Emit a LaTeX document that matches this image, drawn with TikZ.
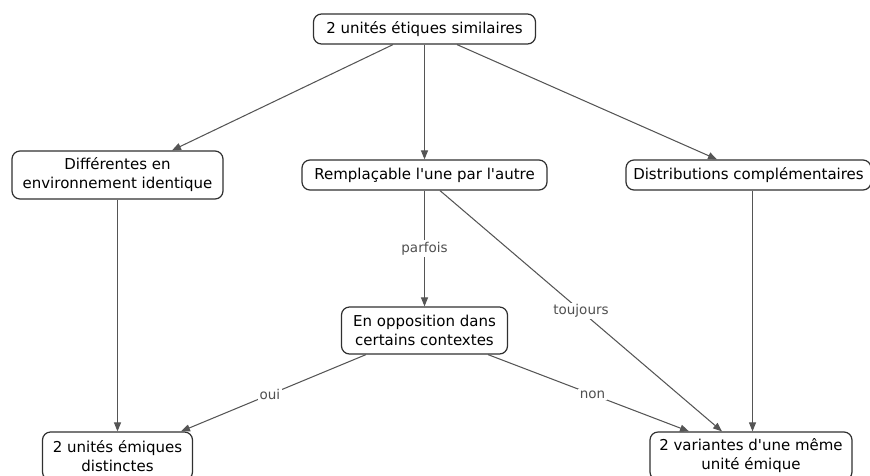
\documentclass[tikz,border=0pt]{standalone}
\usepackage{fontspec}
\setmainfont{DejaVu Sans}
\usetikzlibrary{arrows.meta,calc}
\definecolor{edgecol}{HTML}{555555}
\definecolor{boxcol}{HTML}{303030}
\definecolor{labcol}{HTML}{505050}
\tikzset{
  box/.style={draw=boxcol, line width=1.2pt, rounded corners=8pt, fill=white,
    inner sep=0pt, align=center, font=\fontsize{15}{19}\selectfont},
  conn/.style={draw=edgecol, line width=1.05pt, -{Triangle[length=9pt,width=7pt]}},
  lab/.style={fill=white, inner sep=1.5pt, text=labcol, font=\fontsize{13.5}{16}\selectfont, midway}
}
\begin{document}
\begin{tikzpicture}[x=1pt,y=-1pt]
\useasboundingbox (0,0) rectangle (870,475);
\begin{scope}
\clip (0,0) rectangle (870,475);
\node[box, minimum width=222pt, minimum height=30pt] (top) at (424.5,29) {2 unités étiques similaires};
\node[box, minimum width=211pt, minimum height=48pt] (diff) at (117.5,175) {Différentes en\\environnement identique};
\node[box, minimum width=245pt, minimum height=30pt] (rempl) at (424.5,175) {Remplaçable l\textquotesingle une par l\textquotesingle autre};
\node[box, minimum width=245pt, minimum height=30pt] (dist) at (748.5,175) {Distributions complémentaires};
\node[box, minimum width=166pt, minimum height=47pt] (opp) at (424.5,330.5) {En opposition dans\\certains contextes};
\node[box, minimum width=150pt, minimum height=48pt] (distinct) at (117.5,456) {2 unités émiques\\distinctes};
\node[box, minimum width=202pt, minimum height=48pt] (variant) at (751,456) {2 variantes d\textquotesingle une même\\unité émique};

\draw[conn] ($(top.south)+(-31.5,0)$) -- ($(diff.north)+(54.5,0)$);
\draw[conn] (top.south) -- (rempl.north);
\draw[conn] ($(top.south)+(32.5,0)$) -- ($(dist.north)+(-31.5,0)$);
\draw[conn] (diff.south) -- (distinct.north);
\draw[conn] (rempl.south) -- node[lab] {parfois} (opp.north);
\draw[conn] ($(rempl.south)+(15.5,0)$) -- node[lab] {toujours} ($(variant.north)+(-29,0)$);
\draw[conn] ($(dist.south)+(4,0)$) -- ($(variant.north)+(1.5,0)$);
\draw[conn] ($(opp.south)+(-58.5,0)$) -- node[lab, pos=0.52] {oui} ($(distinct.north)+(63.5,0)$);
\draw[conn] ($(opp.south)+(63.5,0)$) -- node[lab, pos=0.52] {non} ($(variant.north)+(-62,0)$);
\end{scope}
\end{tikzpicture}
\end{document}
